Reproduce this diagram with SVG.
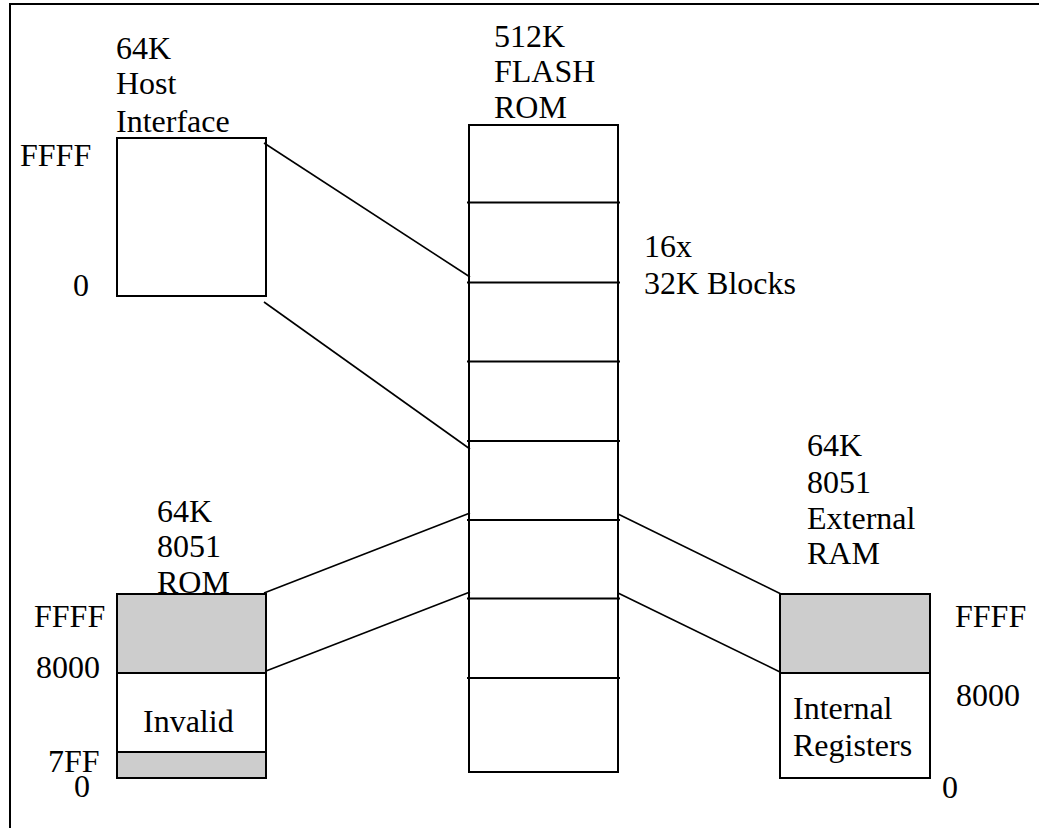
<svg xmlns="http://www.w3.org/2000/svg" width="1039" height="828" viewBox="0 0 1039 828">
<style>
text{font-family:"Liberation Serif","Times New Roman",serif;font-size:32px;fill:#000}
.box{fill:#fff;stroke:#000;stroke-width:2}
.gray{fill:#cdcdcd;stroke:#000;stroke-width:2}
.ln{stroke:#000;stroke-width:2;fill:none}
.cn{stroke:#000;stroke-width:1.6;fill:none}
</style>
<rect width="1039" height="828" fill="#fff"/>
<path class="ln" d="M10,830 V4 H1040"/>
<g id="host">
<text x="116" y="59">64K</text>
<text x="116" y="94">Host</text>
<text x="116" y="132">Interface</text>
<text x="20" y="166">FFFF</text>
<text x="73" y="296">0</text>
<rect class="box" x="117" y="138" width="149" height="158"/>
</g>
<g id="flash">
<text x="494" y="47">512K</text>
<text x="494" y="82">FLASH</text>
<text x="494" y="118">ROM</text>
<rect class="box" x="469" y="125" width="149" height="647"/>
<path class="ln" d="M467,202.5H620M467,282.5H620M467,361.5H620M467,441H620M467,520H620M467,598.5H620M467,678H620"/>
<text x="644" y="257">16x</text>
<text x="644" y="294">32K Blocks</text>
</g>
<g id="rom">
<text x="157" y="522">64K</text>
<text x="157" y="557">8051</text>
<text x="157" y="593">ROM</text>
<rect class="gray" x="117" y="594" width="149" height="79"/>
<rect class="box" x="117" y="673" width="149" height="79"/>
<rect class="gray" x="117" y="752" width="149" height="26"/>
<text x="34" y="627">FFFF</text>
<text x="36" y="678">8000</text>
<text x="143" y="732">Invalid</text>
<text x="48" y="772">7FF</text>
<text x="74" y="797">0</text>
</g>
<g id="ram">
<text x="807" y="456">64K</text>
<text x="807" y="493">8051</text>
<text x="807" y="529">External</text>
<text x="807" y="564">RAM</text>
<rect class="gray" x="780" y="594" width="150" height="79"/>
<rect class="box" x="780" y="673" width="150" height="105"/>
<text x="793" y="719">Internal</text>
<text x="793" y="756">Registers</text>
<text x="955" y="627">FFFF</text>
<text x="956" y="706">8000</text>
<text x="942" y="798">0</text>
</g>
<g id="connectors">
<line class="cn" x1="264" y1="143" x2="470" y2="277"/>
<line class="cn" x1="264" y1="302" x2="470" y2="449"/>
<line class="cn" x1="264" y1="593" x2="470" y2="513"/>
<line class="cn" x1="266" y1="671" x2="470" y2="592"/>
<line class="cn" x1="618" y1="514" x2="781" y2="594"/>
<line class="cn" x1="618" y1="593" x2="780" y2="672"/>
</g>
</svg>
